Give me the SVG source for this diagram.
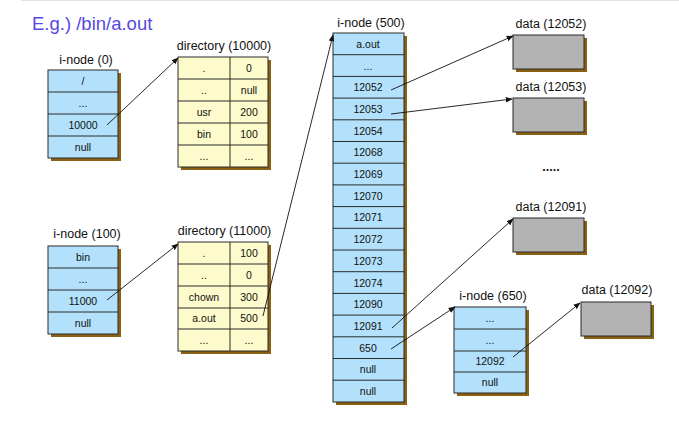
<svg xmlns="http://www.w3.org/2000/svg" width="679" height="434" viewBox="0 0 679 434">
  <defs>
    <marker id="arrow" viewBox="0 0 10 10" refX="9" refY="5" markerWidth="7" markerHeight="7" markerUnits="userSpaceOnUse" orient="auto">
      <path d="M0,1 L10,5 L0,9 z" fill="#111"/>
    </marker>
  </defs>
  <style>
    text { font-family: "Liberation Sans", Arial, sans-serif; fill: #111; }
    .title { font-size: 18.5px; fill: #5548e2; }
    .lbl { font-size: 12.5px; text-anchor: middle; }
    .cell { font-size: 10.5px; text-anchor: middle; }
    .shadow { fill: #8a6112; }
    .inode { fill: #b3e1fb; stroke: #2b2b2b; stroke-width: 1; }
    .dir { fill: #fdfbcb; stroke: #2b2b2b; stroke-width: 1; }
    .data { fill: #b3b3b3; stroke: #2b2b2b; stroke-width: 1; }
    .sep { stroke: #2b2b2b; stroke-width: 1; }
    .conn { stroke: #111; stroke-width: 0.9; fill: none; marker-end: url(#arrow); }
  </style>

  <rect width="679" height="434" fill="#fff"/>
  <line x1="21" y1="0.5" x2="679" y2="0.5" stroke="#e2e2e2" stroke-width="1"/>

  <text class="title" x="32" y="30">E.g.) /bin/a.out</text>

  <!-- root i-node -->
  <g id="inode-0">
    <text class="lbl" x="86" y="63.5">i-node (0)</text>
    <rect class="shadow" x="51" y="73" width="70" height="88"/>
    <rect class="inode" x="48" y="70" width="70" height="88"/>
    <line class="sep" x1="48" y1="92" x2="118" y2="92"/>
    <line class="sep" x1="48" y1="114" x2="118" y2="114"/>
    <line class="sep" x1="48" y1="136" x2="118" y2="136"/>
    <text class="cell" x="83" y="85">/</text>
    <text class="cell" x="83" y="107">...</text>
    <text class="cell" x="83" y="129">10000</text>
    <text class="cell" x="83" y="151">null</text>
  </g>

  <!-- root directory block -->
  <g id="dir-10000">
    <text class="lbl" x="224" y="50">directory (10000)</text>
    <rect class="shadow" x="181" y="60" width="90" height="110"/>
    <rect class="dir" x="178" y="57" width="90" height="110"/>
    <line class="sep" x1="230" y1="57" x2="230" y2="167"/>
    <line class="sep" x1="178" y1="79" x2="268" y2="79"/>
    <line class="sep" x1="178" y1="101" x2="268" y2="101"/>
    <line class="sep" x1="178" y1="123" x2="268" y2="123"/>
    <line class="sep" x1="178" y1="145" x2="268" y2="145"/>
    <text class="cell" x="204" y="72">.</text>
    <text class="cell" x="249" y="72">0</text>
    <text class="cell" x="204" y="94">..</text>
    <text class="cell" x="249" y="94">null</text>
    <text class="cell" x="204" y="116">usr</text>
    <text class="cell" x="249" y="116">200</text>
    <text class="cell" x="204" y="138">bin</text>
    <text class="cell" x="249" y="138">100</text>
    <text class="cell" x="204" y="160">...</text>
    <text class="cell" x="249" y="160">...</text>
  </g>

  <!-- i-node of /bin -->
  <g id="inode-100">
    <text class="lbl" x="87" y="238">i-node (100)</text>
    <rect class="shadow" x="51" y="249" width="70" height="88"/>
    <rect class="inode" x="48" y="246" width="70" height="88"/>
    <line class="sep" x1="48" y1="268" x2="118" y2="268"/>
    <line class="sep" x1="48" y1="290" x2="118" y2="290"/>
    <line class="sep" x1="48" y1="312" x2="118" y2="312"/>
    <text class="cell" x="83" y="261">bin</text>
    <text class="cell" x="83" y="283">...</text>
    <text class="cell" x="83" y="305">11000</text>
    <text class="cell" x="83" y="327">null</text>
  </g>

  <!-- /bin directory block -->
  <g id="dir-11000">
    <text class="lbl" x="224.5" y="235">directory (11000)</text>
    <rect class="shadow" x="181" y="245" width="90" height="109"/>
    <rect class="dir" x="178" y="242" width="90" height="109"/>
    <line class="sep" x1="230" y1="242" x2="230" y2="351"/>
    <line class="sep" x1="178" y1="264" x2="268" y2="264"/>
    <line class="sep" x1="178" y1="286" x2="268" y2="286"/>
    <line class="sep" x1="178" y1="308" x2="268" y2="308"/>
    <line class="sep" x1="178" y1="329" x2="268" y2="329"/>
    <text class="cell" x="204" y="257">.</text>
    <text class="cell" x="249" y="257">100</text>
    <text class="cell" x="204" y="279">..</text>
    <text class="cell" x="249" y="279">0</text>
    <text class="cell" x="204" y="301">chown</text>
    <text class="cell" x="249" y="301">300</text>
    <text class="cell" x="204" y="322">a.out</text>
    <text class="cell" x="249" y="322">500</text>
    <text class="cell" x="204" y="344">...</text>
    <text class="cell" x="249" y="344">...</text>
  </g>

  <!-- i-node of a.out: 17 rows of 21.7 -->
  <g id="inode-500">
    <text class="lbl" x="371" y="27">i-node (500)</text>
    <rect class="shadow" x="336" y="36" width="71" height="369"/>
    <rect class="inode" x="333" y="33" width="71" height="369"/>
    <g class="sep">
      <line x1="333" y1="54.7" x2="404" y2="54.7"/>
      <line x1="333" y1="76.4" x2="404" y2="76.4"/>
      <line x1="333" y1="98.1" x2="404" y2="98.1"/>
      <line x1="333" y1="119.8" x2="404" y2="119.8"/>
      <line x1="333" y1="141.5" x2="404" y2="141.5"/>
      <line x1="333" y1="163.2" x2="404" y2="163.2"/>
      <line x1="333" y1="184.9" x2="404" y2="184.9"/>
      <line x1="333" y1="206.6" x2="404" y2="206.6"/>
      <line x1="333" y1="228.3" x2="404" y2="228.3"/>
      <line x1="333" y1="250" x2="404" y2="250"/>
      <line x1="333" y1="271.7" x2="404" y2="271.7"/>
      <line x1="333" y1="293.4" x2="404" y2="293.4"/>
      <line x1="333" y1="315.1" x2="404" y2="315.1"/>
      <line x1="333" y1="336.8" x2="404" y2="336.8"/>
      <line x1="333" y1="358.5" x2="404" y2="358.5"/>
      <line x1="333" y1="380.2" x2="404" y2="380.2"/>
    </g>
    <text class="cell" x="368" y="47.8">a.out</text>
    <text class="cell" x="368" y="69.5">...</text>
    <text class="cell" x="368" y="91.2">12052</text>
    <text class="cell" x="368" y="112.9">12053</text>
    <text class="cell" x="368" y="134.6">12054</text>
    <text class="cell" x="368" y="156.3">12068</text>
    <text class="cell" x="368" y="178">12069</text>
    <text class="cell" x="368" y="199.7">12070</text>
    <text class="cell" x="368" y="221.4">12071</text>
    <text class="cell" x="368" y="243.1">12072</text>
    <text class="cell" x="368" y="264.8">12073</text>
    <text class="cell" x="368" y="286.5">12074</text>
    <text class="cell" x="368" y="308.2">12090</text>
    <text class="cell" x="368" y="329.9">12091</text>
    <text class="cell" x="368" y="351.6">650</text>
    <text class="cell" x="368" y="373.3">null</text>
    <text class="cell" x="368" y="395">null</text>
  </g>

  <!-- data blocks -->
  <g id="data-12052">
    <text class="lbl" x="551" y="28">data (12052)</text>
    <rect class="shadow" x="516" y="38" width="71" height="34"/>
    <rect class="data" x="513" y="35" width="71" height="34"/>
  </g>
  <g id="data-12053">
    <text class="lbl" x="551" y="91">data (12053)</text>
    <rect class="shadow" x="516" y="101" width="71" height="34"/>
    <rect class="data" x="513" y="98" width="71" height="34"/>
  </g>
  <text class="lbl" x="551" y="171" font-weight="bold">.....</text>
  <g id="data-12091">
    <text class="lbl" x="551" y="211">data (12091)</text>
    <rect class="shadow" x="516" y="221" width="71" height="34"/>
    <rect class="data" x="513" y="218" width="71" height="34"/>
  </g>

  <!-- indirect i-node -->
  <g id="inode-650">
    <text class="lbl" x="493" y="300">i-node (650)</text>
    <rect class="shadow" x="457" y="310" width="72" height="86"/>
    <rect class="inode" x="454" y="307" width="72" height="86"/>
    <line class="sep" x1="454" y1="329" x2="526" y2="329"/>
    <line class="sep" x1="454" y1="351" x2="526" y2="351"/>
    <line class="sep" x1="454" y1="372" x2="526" y2="372"/>
    <text class="cell" x="490" y="322">...</text>
    <text class="cell" x="490" y="344">...</text>
    <text class="cell" x="490" y="365">12092</text>
    <text class="cell" x="490" y="386">null</text>
  </g>

  <g id="data-12092">
    <text class="lbl" x="617" y="294">data (12092)</text>
    <rect class="shadow" x="584" y="305" width="70" height="34"/>
    <rect class="data" x="581" y="302" width="70" height="34"/>
  </g>

  <!-- pointers -->
  <g id="connectors">
    <line class="conn" x1="107" y1="125" x2="178" y2="58"/>
    <line class="conn" x1="107" y1="300" x2="178" y2="244"/>
    <line class="conn" x1="263" y1="316" x2="333" y2="35"/>
    <line class="conn" x1="391" y1="90" x2="513" y2="36"/>
    <line class="conn" x1="391" y1="114" x2="512" y2="99"/>
    <line class="conn" x1="392" y1="328" x2="513" y2="219"/>
    <line class="conn" x1="391" y1="349" x2="455" y2="307"/>
    <line class="conn" x1="513" y1="357" x2="580" y2="303"/>
  </g>
</svg>
